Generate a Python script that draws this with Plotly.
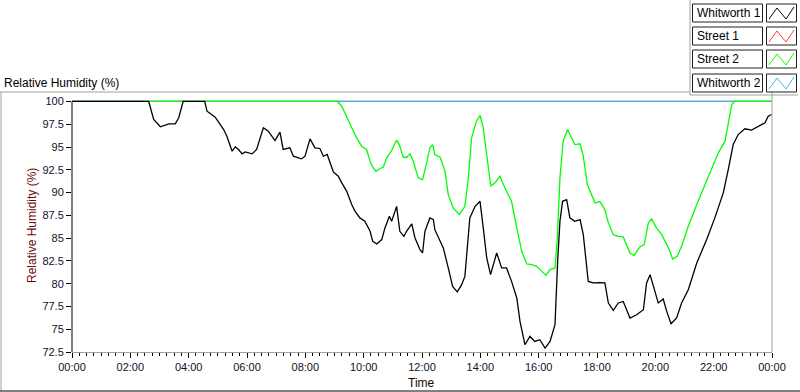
import plotly.graph_objects as go

# ---------------- data ----------------
series_names = ["Whitworth 1", "Street 1", "Street 2", "Whitworth 2"]
series_colors = ["#000000", "#ff4040", "#00ff00", "#3cb4f0"]

w1_hours = [0.0, 2.63, 2.80, 3.03, 3.32, 3.54, 3.66, 3.81, 4.55, 4.63, 4.91, 5.03, 5.20, 5.31,
            5.49, 5.60, 5.71, 5.83, 5.94, 6.17, 6.33, 6.56, 6.73, 6.96, 7.13, 7.24, 7.47, 7.59,
            7.87, 7.99, 8.16, 8.33, 8.50, 8.62, 8.75, 8.96, 9.13, 9.25, 9.42, 9.59, 9.70, 9.87,
            10.04, 10.22, 10.31, 10.45, 10.62, 10.73, 10.88, 10.96, 11.13, 11.24, 11.38, 11.47,
            11.65, 11.76, 11.93, 12.02, 12.10, 12.27, 12.39, 12.44, 12.62, 12.73, 12.90, 13.05,
            13.21, 13.36, 13.47, 13.64, 13.82, 13.99, 14.10, 14.22, 14.35, 14.44, 14.56, 14.73,
            14.90, 15.07, 15.25, 15.36, 15.53, 15.70, 15.87, 16.04, 16.22, 16.39, 16.56, 16.65,
            16.73, 16.82, 16.96, 17.07, 17.24, 17.42, 17.53, 17.70, 17.87, 18.10, 18.27, 18.39,
            18.56, 18.73, 18.90, 19.13, 19.36, 19.59, 19.70, 19.82, 19.93, 20.10, 20.27, 20.39,
            20.54, 20.73, 20.90, 21.13, 21.42, 21.76, 22.04, 22.33, 22.50, 22.67, 22.84, 23.07,
            23.30, 23.53, 23.76, 23.87, 23.99]
w1_rh = [100.0, 100.0, 98.02, 97.22, 97.55, 97.55, 98.21, 100.0, 100.0, 98.93, 98.27, 97.66, 96.92, 96.19,
         94.54, 95.02, 94.73, 94.25, 94.47, 94.25, 94.73, 97.11, 96.74, 95.71, 96.63, 94.73, 94.91, 93.99,
         93.70, 93.99, 95.90, 94.91, 94.84, 93.99, 94.18, 92.27, 91.79, 91.07, 90.14, 88.68, 87.95, 87.22,
         86.85, 85.75, 84.65, 84.36, 84.84, 86.12, 87.40, 86.85, 88.49, 85.75, 85.20, 85.75,
         86.56, 85.02, 83.74, 83.37, 85.75, 87.22, 87.03, 85.93, 84.65, 83.92, 81.73, 79.70,
         79.09, 79.89, 80.80, 87.22, 88.49, 89.04, 86.12, 82.82, 80.99, 82.09, 83.37, 81.73,
         81.73, 80.25, 78.43, 75.86, 73.30, 74.21, 73.66, 73.85, 72.93, 73.66, 75.49, 82.45,
         86.85, 89.04, 89.23, 87.22, 86.85, 87.03, 85.38, 80.25, 80.08, 80.11, 80.08, 77.88,
         77.07, 77.88, 78.05, 76.23, 76.59, 77.14, 80.08, 80.99, 79.70, 77.88, 78.32, 76.96,
         75.60, 76.23, 77.88, 79.34, 82.27, 84.84, 87.22, 89.97, 92.53, 95.27, 96.37, 97.00,
         96.85, 97.22, 97.66, 98.38, 98.57]

s2_hours = [0.0, 9.10, 9.25, 9.42, 9.59, 9.76, 9.93, 10.10, 10.22, 10.31, 10.42, 10.56, 10.67, 10.79,
            10.96, 11.13, 11.22, 11.36, 11.47, 11.59, 11.70, 11.87, 12.02, 12.16, 12.27, 12.37,
            12.44, 12.62, 12.79, 12.90, 13.07, 13.28, 13.47, 13.59, 13.70, 13.87, 13.99, 14.10,
            14.22, 14.36, 14.50, 14.67, 14.84, 15.07, 15.25, 15.42, 15.59, 15.76, 15.93, 16.10,
            16.25, 16.39, 16.56, 16.64, 16.73, 16.84, 16.99, 17.13, 17.24, 17.42, 17.53, 17.67,
            17.82, 17.93, 18.10, 18.27, 18.39, 18.56, 18.73, 18.90, 19.13, 19.27, 19.47, 19.62,
            19.76, 19.87, 20.04, 20.22, 20.39, 20.50, 20.59, 20.75, 20.90, 21.13, 21.42, 21.64,
            21.87, 22.16, 22.39, 22.50, 22.62, 22.71, 24.0]
s2_rh = [100.0, 100.0, 99.48, 98.21, 97.11, 96.01, 95.09, 94.73, 93.44, 92.78, 92.34, 92.64, 92.78, 93.81,
         94.62, 95.75, 95.27, 93.88, 93.88, 94.25, 93.44, 91.62, 91.43, 93.26, 94.91, 95.27,
         94.18, 93.88, 92.34, 89.78, 88.32, 87.58, 88.49, 91.62, 96.01, 97.84, 98.49, 97.11,
         94.36, 90.69, 91.07, 91.79, 90.52, 89.04, 86.12, 83.55, 82.16, 82.09, 81.90, 81.35,
         80.91, 81.54, 81.73, 85.02, 91.62, 95.64, 96.92, 96.01, 95.27, 95.35, 93.99, 90.88,
         89.78, 88.87, 89.01, 88.13, 86.67, 85.38, 85.20, 85.13, 83.37, 83.08, 84.03, 84.29,
         86.67, 87.11, 86.12, 85.38, 84.29, 83.55, 82.71, 83.00, 84.10, 86.30, 88.68, 90.33,
         92.16, 94.36, 95.64, 97.66, 99.67, 100.0, 100.0]

s1_hours = [0.0, 24.0]
s1_rh = [100.0, 100.0]
w2_hours = [0.0, 24.0]
w2_rh = [100.0, 100.0]

x_tick_vals = [0, 2, 4, 6, 8, 10, 12, 14, 16, 18, 20, 22, 24]
x_tick_text = ["00:00", "02:00", "04:00", "06:00", "08:00", "10:00", "12:00",
               "14:00", "16:00", "18:00", "20:00", "22:00", "00:00"]
y_tick_vals = [72.5, 75, 77.5, 80, 82.5, 85, 87.5, 90, 92.5, 95, 97.5, 100]

# ---------------- layout helpers ----------------
W, H = 800, 392
ML, MR, MT, MB = 72, 28, 92, 40
PW, PH = W - ML - MR, H - MT - MB
FONT = "Liberation Sans, Arial, sans-serif"
GRAY = "#a0a0a0"


def px(x):
    return (x - ML) / PW


def py(y):
    return (H - MB - y) / PH


fig = go.Figure()
# draw order: red under blue under green under black
for name, hrs, vals, col in [("Street 1", s1_hours, s1_rh, series_colors[1]),
                             ("Whitworth 2", w2_hours, w2_rh, series_colors[3]),
                             ("Street 2", s2_hours, s2_rh, series_colors[2]),
                             ("Whitworth 1", w1_hours, w1_rh, series_colors[0])]:
    fig.add_trace(go.Scatter(x=hrs, y=vals, mode="lines", name=name,
                             line=dict(color=col, width=1.3), showlegend=False,
                             hoverinfo="skip"))

shapes = []
line_gray = dict(color=GRAY, width=1)
# outer frame
shapes.append(dict(type="line", xref="paper", yref="paper", x0=px(0), x1=px(690), y0=py(92), y1=py(92), line=line_gray))
shapes.append(dict(type="line", xref="paper", yref="paper", x0=px(1), x1=px(1), y0=py(92), y1=py(391), line=line_gray))
shapes.append(dict(type="line", xref="paper", yref="paper", x0=px(0), x1=px(800), y0=py(391), y1=py(391), line=dict(color="#000000", width=1)))
# legend panel frame
shapes.append(dict(type="line", xref="paper", yref="paper", x0=px(690), x1=px(690), y0=py(0), y1=py(95), line=line_gray))
shapes.append(dict(type="line", xref="paper", yref="paper", x0=px(690), x1=px(798), y0=py(95), y1=py(95), line=line_gray))
# plot frame right
shapes.append(dict(type="line", xref="paper", yref="paper", x0=1, x1=1, y0=0, y1=py(92), line=line_gray))
# left axis line from 72.5 to 100
shapes.append(dict(type="line", xref="paper", yref="y", x0=0, x1=0, y0=72.5, y1=100, line=dict(color="#000000", width=1)))

annotations = []
# legend
row_centers = [13, 36, 59, 83]
for name, col, cy in zip(series_names, series_colors, row_centers):
    top, bot = cy - 9, cy + 9
    shapes.append(dict(type="rect", xref="paper", yref="paper", x0=px(692.5), x1=px(762.5),
                       y0=py(bot), y1=py(top), line=dict(color="#202020", width=1), fillcolor="white"))
    shapes.append(dict(type="rect", xref="paper", yref="paper", x0=px(766.5), x1=px(796.5),
                       y0=py(bot), y1=py(top), line=dict(color="#202020", width=1), fillcolor="white"))
    xs = [769, 777, 786, 794]
    ys = [bot - 3, top + 4, bot - 3, top + 3]
    path = "M " + " L ".join(f"{px(a)},{py(b)}" for a, b in zip(xs, ys))
    shapes.append(dict(type="path", xref="paper", yref="paper", path=path,
                       line=dict(color=col, width=1)))
    annotations.append(dict(xref="paper", yref="paper", x=px(695), y=py(cy), text=name,
                            showarrow=False, xanchor="left", yanchor="middle",
                            font=dict(family=FONT, size=12, color="#000000")))

annotations.append(dict(xref="paper", yref="paper", x=px(2), y=py(83), text="Relative Humidity (%)",
                        showarrow=False, xanchor="left", yanchor="middle",
                        font=dict(family=FONT, size=12, color="#000000")))
annotations.append(dict(xref="paper", yref="paper", x=px(32), y=py(226), text="Relative Humidity (%)",
                        showarrow=False, xanchor="center", yanchor="middle", textangle=-90,
                        font=dict(family=FONT, size=12, color="#6a0a0a")))
annotations.append(dict(xref="paper", yref="paper", x=px(421), y=py(383), text="Time",
                        showarrow=False, xanchor="center", yanchor="middle",
                        font=dict(family=FONT, size=12, color="#200000")))

fig.update_layout(
    width=W, height=H,
    margin=dict(l=ML, r=MR, t=MT, b=MB, pad=0),
    paper_bgcolor="white", plot_bgcolor="white",
    shapes=shapes, annotations=annotations,
    xaxis=dict(range=[0, 24], tickmode="array", tickvals=x_tick_vals, ticktext=x_tick_text,
               showgrid=False, zeroline=False, showline=True, linecolor=GRAY, linewidth=1,
               ticks="outside", ticklen=5, tickcolor="#000000", tickwidth=1,
               minor=dict(dtick=0.25, tick0=0, ticks="outside", ticklen=3, tickcolor="#000000",
                          tickwidth=1, showgrid=False),
               tickfont=dict(family=FONT, size=11, color="#10102a"), fixedrange=True),
    yaxis=dict(range=[72.5, 101.04], tickmode="array", tickvals=y_tick_vals,
               showgrid=False, zeroline=False, showline=False,
               ticks="outside", ticklen=5, tickcolor="#000000", tickwidth=1,
               tickfont=dict(family=FONT, size=11, color="#10102a"), fixedrange=True),
)

fig.write_html("out.html", post_script="document.body.style.margin='0';",
               config={"displayModeBar": False})
